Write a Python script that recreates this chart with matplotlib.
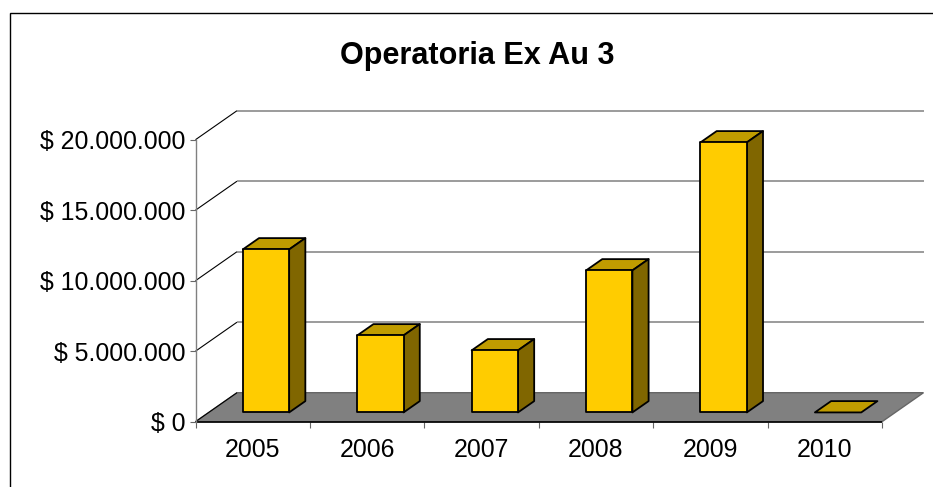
import numpy as np
import matplotlib
matplotlib.use("Agg")
import matplotlib.pyplot as plt
from matplotlib.patches import Polygon
from matplotlib.lines import Line2D

plt.rcParams['font.family'] = ['Liberation Sans', 'DejaVu Sans']
plt.rcParams['lines.solid_capstyle'] = 'butt'

# Values
years = ["2005", "2006", "2007", "2008", "2009", "2010"]
values = [11560000, 5460000, 4400000, 10070000, 19150000, 0]
y_ticks = [0, 5000000, 10000000, 15000000, 20000000]
y_labels = ["$ 0", "$ 5.000.000", "$ 10.000.000", "$ 15.000.000", "$ 20.000.000"]

W, H = 933, 487
fig = plt.figure(figsize=(W / 100, H / 100), dpi=100, facecolor="white")

# Axes box is the front plane of the 3D chart (pixels from the reference)
left, right, top, bottom = 195.5, 882, 139.7, 421.7
ax = fig.add_axes([left / W, 1 - bottom / H, (right - left) / W, (bottom - top) / H])
ax.set_xlim(0, len(years))
ax.set_ylim(0, 20000000)
ax.patch.set_visible(False)

# Depth of the box, in data units
depth_x = 41.5 / ((right - left) / len(years))
depth_y = 29 / ((bottom - top) / 20000000)

bar_width = 0.405
bar_front = 0.32
bar_back = 0.71


def shift(x, v, frac):
    return (x + depth_x * frac, v + depth_y * frac)


# Floor
ax.add_patch(Polygon([shift(0, 0, 0), shift(0, 0, 1), shift(6, 0, 1), shift(6, 0, 0)],
                     closed=True, facecolor="#808080", edgecolor="#666666", lw=1,
                     clip_on=False, zorder=1))
ax.plot([0, 6], [0, 0], color="black", lw=1.2, clip_on=False, zorder=2)

# Gridlines: slanted on the side wall, flat on the back wall
for v in y_ticks[1:]:
    x0, y0 = shift(0, v, 0)
    x1, y1 = shift(0, v, 1)
    x2, y2 = shift(6, v, 1)
    ax.plot([x0, x1], [y0, y1], color="black", lw=0.8, clip_on=False, zorder=1)
    ax.plot([x1, x2], [y1, y2], color="#808080", lw=1.1, clip_on=False, zorder=1)
x0, y0 = shift(0, 0, 0)
x1, y1 = shift(0, 0, 1)
ax.plot([x0, x1], [y0, y1], color="black", lw=0.8, clip_on=False, zorder=2)

# Bars
for i, v in enumerate(values):
    xl = i + 0.5 - bar_width / 2
    xr = i + 0.5 + bar_width / 2
    style = dict(closed=True, edgecolor="black", lw=1.3, joinstyle="round",
                 clip_on=False, zorder=3)
    top_face = [shift(xl, v, bar_front), shift(xr, v, bar_front),
                shift(xr, v, bar_back), shift(xl, v, bar_back)]
    ax.add_patch(Polygon(top_face, facecolor="#C09C00", **style))
    if v > 0:
        side_face = [shift(xr, 0, bar_front), shift(xr, 0, bar_back),
                     shift(xr, v, bar_back), shift(xr, v, bar_front)]
        front_face = [shift(xl, 0, bar_front), shift(xr, 0, bar_front),
                      shift(xr, v, bar_front), shift(xl, v, bar_front)]
        ax.add_patch(Polygon(side_face, facecolor="#806600", **style))
        ax.add_patch(Polygon(front_face, facecolor="#FFCC00", **style))

# Axes
for s in ["top", "right", "bottom"]:
    ax.spines[s].set_visible(False)
ax.spines["left"].set_color("#808080")
ax.spines["left"].set_linewidth(1.0)

ax.set_yticks(y_ticks)
ax.set_yticklabels(y_labels, fontsize=17.9, color="black")
ax.tick_params(axis="y", length=4, width=0.8, color="#666666", pad=3.5)

ax.set_xticks(np.arange(0, 7))
ax.set_xticklabels([])
ax.set_xticks(np.arange(len(years)) + 0.5, minor=True)
ax.set_xticklabels(years, minor=True, fontsize=17.9, color="black")
ax.tick_params(axis="x", which="major", length=4.5, width=0.8, color="#666666")
ax.tick_params(axis="x", which="minor", length=0, pad=12)

fig.text(477 / W, 1 - 56 / H, "Operatoria Ex Au 3", fontsize=22.1, fontweight="bold",
         ha="center", va="center", color="black")

# Chart frame: only the top and left edges fall inside the picture
fig.add_artist(Line2D([10 / W, 10 / W, 1], [0, 1 - 13 / H, 1 - 13 / H],
                      color="black", lw=1.0, solid_joinstyle="miter"))

fig.savefig("out.png", dpi=100)
